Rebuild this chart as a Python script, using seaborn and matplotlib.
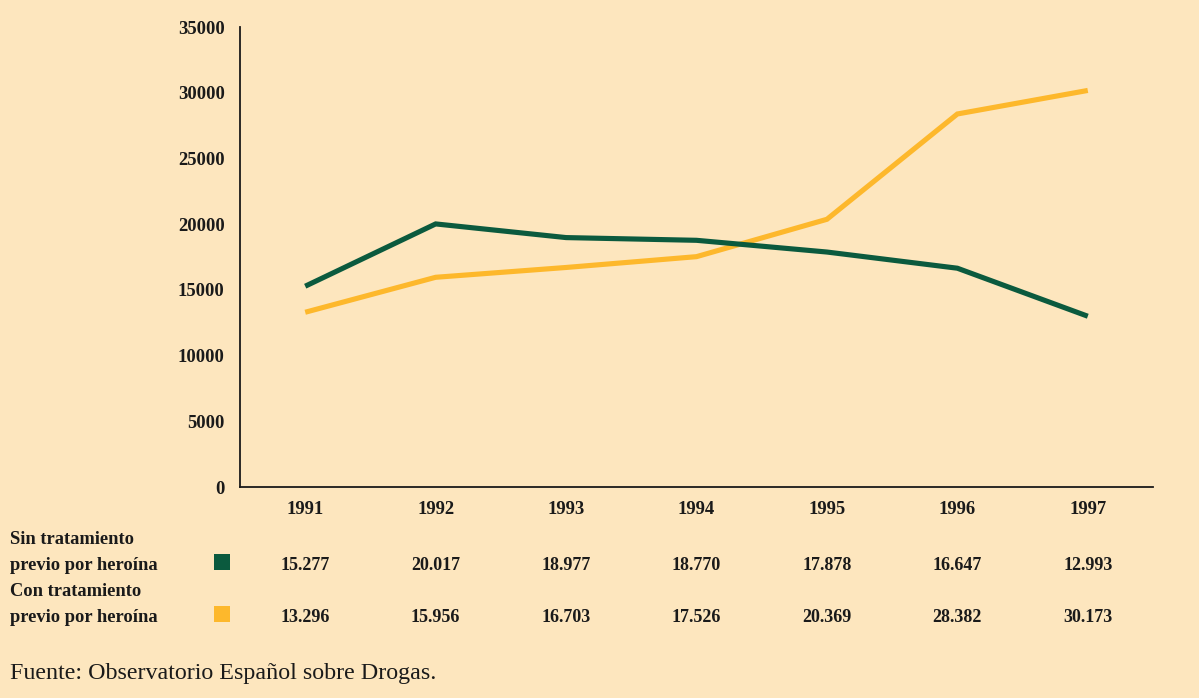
import numpy as np
import pandas as pd
import matplotlib
matplotlib.use("Agg")
import matplotlib.pyplot as plt
from matplotlib.patches import Rectangle
import seaborn as sns

years = ["1991", "1992", "1993", "1994", "1995", "1996", "1997"]
sin_tratamiento = [15277, 20017, 18977, 18770, 17878, 16647, 12993]
con_tratamiento = [13296, 15956, 16703, 17526, 20369, 28382, 30173]
series_labels = ["Sin tratamiento\nprevio por heroína", "Con tratamiento\nprevio por heroína"]
yticks = [0, 5000, 10000, 15000, 20000, 25000, 30000, 35000]
source = "Fuente: Observatorio Español sobre Drogas."

BG = "#FDE6BE"
GREEN = "#0B5A3E"
ORANGE = "#FDB82C"
INK = "#1A1A1A"

sns.set_style("white")
plt.rcParams["font.family"] = ["Liberation Serif", "DejaVu Serif"]

df = pd.DataFrame({
    "pos": list(range(len(years))) * 2,
    "valor": sin_tratamiento + con_tratamiento,
    "serie": [series_labels[0]] * len(years) + [series_labels[1]] * len(years),
})

W, H = 1199, 698
fig = plt.figure(figsize=(W / 100, H / 100), dpi=100, facecolor=BG)
ax = fig.add_axes([240 / W, 1 - 487 / H, 913 / W, 460 / H])
ax.set_facecolor(BG)

sns.lineplot(data=df, x="pos", y="valor", hue="serie",
             palette={series_labels[0]: GREEN, series_labels[1]: ORANGE},
             hue_order=[series_labels[1], series_labels[0]],
             linewidth=3.7, legend=False, ax=ax)
for ln in ax.lines:
    ln.set_solid_capstyle("butt")
    ln.set_solid_joinstyle("miter")

ax.set_xlim(-0.5, len(years) - 0.5)
ax.set_ylim(0, 35000)
ax.set_yticks(yticks)
ax.set_yticklabels([str(t) for t in yticks], fontsize=13.4, fontweight="bold", color=INK)
ax.set_xticks(range(len(years)))
ax.set_xticklabels(years, fontsize=13.4, fontweight="bold", color=INK)
ax.tick_params(axis="both", length=0)
ax.tick_params(axis="y", pad=11)
ax.tick_params(axis="x", pad=10)
ax.set_xlabel("")
ax.set_ylabel("")
for side in ["top", "right"]:
    ax.spines[side].set_visible(False)
for side in ["left", "bottom"]:
    ax.spines[side].set_color(INK)
    ax.spines[side].set_linewidth(1.3)

# data table under the chart
def fmt(v):
    return f"{v:,}".replace(",", ".")

rows = [(series_labels[0], GREEN, sin_tratamiento, 563),
        (series_labels[1], ORANGE, con_tratamiento, 615)]
for label, color, values, ypix in rows:
    line1, line2 = label.split("\n")
    fig.text(10 / W, 1 - (ypix - 24) / H, line1, fontsize=13.3, color=INK,
             ha="left", va="center", fontweight="bold")
    fig.text(10 / W, 1 - (ypix + 2) / H, line2, fontsize=13.3, color=INK,
             ha="left", va="center", fontweight="bold")
    fig.patches.append(Rectangle((214 / W, 1 - (ypix + 7) / H), 16 / W, 16 / H,
                                 transform=fig.transFigure, facecolor=color,
                                 edgecolor="none"))
    for i, v in enumerate(values):
        xdisp = ax.transData.transform((i, 0))[0]
        fig.text(xdisp / fig.bbox.width, 1 - (ypix + 2) / H, fmt(v), fontsize=13,
                 fontweight="bold", color=INK, ha="center", va="center")

fig.text(10 / W, 1 - 673 / H, source, fontsize=17.3, color=INK,
         ha="left", va="center")

fig.savefig("out.png", dpi=100, facecolor=BG)
